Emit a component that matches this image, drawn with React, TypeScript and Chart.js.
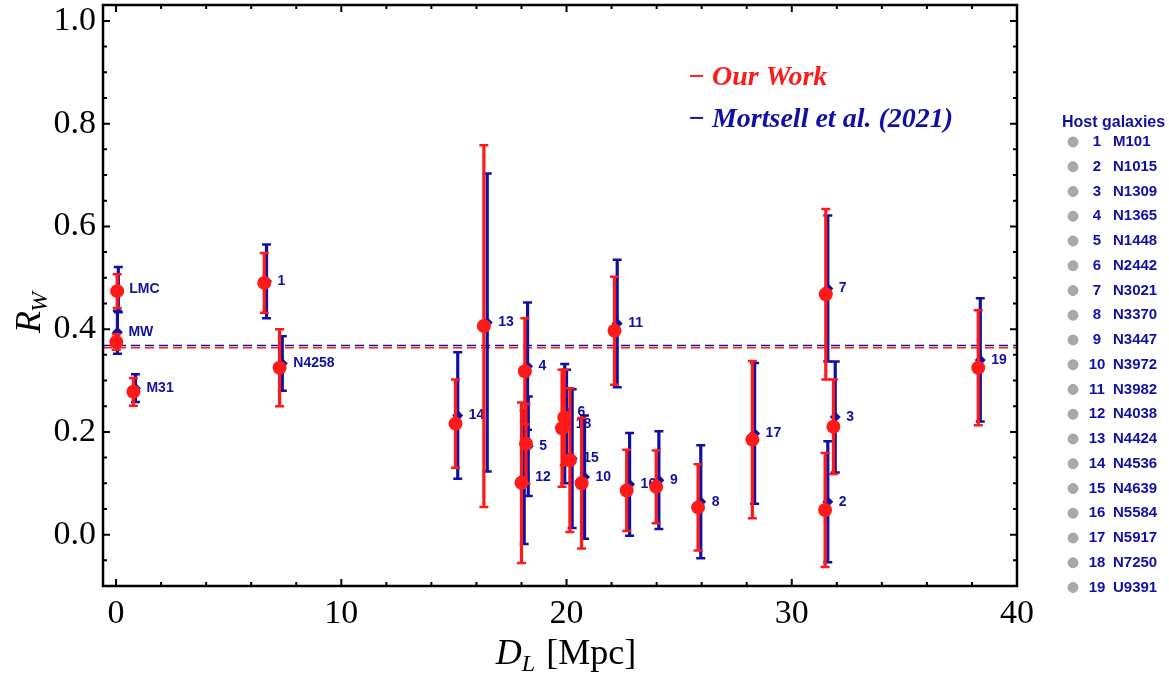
import React, { useEffect, useRef } from 'react';
import { Chart, registerables } from 'chart.js';

Chart.register(...registerables);

// ---- axes ----
const X_MIN = -0.58;
const X_MAX = 40;
const Y_MIN = -0.1;
const Y_MAX = 1.031;
const X_TICKS = [0, 10, 20, 30, 40];
const Y_TICKS = [0, 0.2, 0.4, 0.6, 0.8, 1.0];
const X_MINOR_STEP = 2;
const Y_MINOR_STEP = 0.05;

// ---- data ----
const GALAXY_LABELS = ['LMC', 'MW', 'M31', '1', 'N4258', '14', '13', '4', '5', '12', '6', '18', '15', '10', '11', '16', '9', '8', '17', '7', '3', '2', '19'];

const OUR_D = [0.05, 0.01, 0.77, 6.58, 7.26, 15.07, 16.33, 18.15, 18.2, 18.0, 19.9, 19.8, 20.15, 20.67, 22.13, 22.67, 23.98, 25.84, 28.25, 31.51, 31.85, 31.48, 38.28];
const OUR_RW = [0.474, 0.375, 0.278, 0.49, 0.325, 0.216, 0.406, 0.318, 0.177, 0.101, 0.228, 0.207, 0.145, 0.1, 0.397, 0.086, 0.093, 0.053, 0.185, 0.468, 0.21, 0.048, 0.325];
const OUR_ERR = [0.033, 0.015, 0.027, 0.058, 0.075, 0.086, 0.352, 0.103, 0.078, 0.156, 0.093, 0.114, 0.14, 0.127, 0.105, 0.079, 0.071, 0.084, 0.153, 0.166, 0.092, 0.111, 0.112];

const M21_D = [0.1, 0.06, 0.86, 6.68, 7.38, 15.17, 16.48, 18.27, 18.3, 18.12, 20.0, 19.92, 20.25, 20.8, 22.25, 22.8, 24.1, 25.96, 28.35, 31.6, 31.93, 31.6, 38.37];
const M21_RW = [0.477, 0.394, 0.285, 0.493, 0.333, 0.232, 0.413, 0.328, 0.172, 0.112, 0.239, 0.216, 0.148, 0.112, 0.411, 0.098, 0.106, 0.064, 0.197, 0.479, 0.229, 0.064, 0.34];
const M21_ERR = [0.044, 0.042, 0.027, 0.072, 0.053, 0.123, 0.29, 0.124, 0.097, 0.13, 0.082, 0.116, 0.135, 0.12, 0.124, 0.1, 0.095, 0.11, 0.137, 0.142, 0.108, 0.118, 0.12];

const RW_MEAN_OURS = 0.364;
const RW_MEAN_M21 = 0.368;

const HOST_NUMS = ['1', '2', '3', '4', '5', '6', '7', '8', '9', '10', '11', '12', '13', '14', '15', '16', '17', '18', '19'];
const HOST_NAMES = ['M101', 'N1015', 'N1309', 'N1365', 'N1448', 'N2442', 'N3021', 'N3370', 'N3447', 'N3972', 'N3982', 'N4038', 'N4424', 'N4536', 'N4639', 'N5584', 'N5917', 'N7250', 'U9391'];

const LEGEND_OURS = '\u2212 Our Work';
const LEGEND_M21 = '\u2212 Mortsell et al. (2021)';

const RED = '#ff1a1a';
const BLUE = '#1010a6';
const SERIF = '"Liberation Serif", "Times New Roman", serif';
const SANS = '"Liberation Sans", Arial, sans-serif';

const errorBarPlugin = {
  id: 'errorBars',
  beforeDatasetDraw(chart: any, args: any) {
    const ds = chart.data.datasets[args.index];
    if (!ds.errors) return;
    const { ctx, scales, chartArea } = chart;
    const xs = scales.x, ys = scales.y;
    ctx.save();
    ctx.beginPath();
    ctx.rect(chartArea.left, chartArea.top, chartArea.width, chartArea.height);
    ctx.clip();
    ctx.strokeStyle = ds.errorColor;
    ds.data.forEach((p: any, i: number) => {
      const e = ds.errors[i];
      const px = xs.getPixelForValue(p.x);
      const yt = ys.getPixelForValue(p.y + e);
      const yb = ys.getPixelForValue(p.y - e);
      ctx.lineWidth = 3.2;
      ctx.beginPath();
      ctx.moveTo(px, yt);
      ctx.lineTo(px, yb);
      ctx.stroke();
      ctx.lineWidth = 2.5;
      ctx.beginPath();
      ctx.moveTo(px - 4.5, yt);
      ctx.lineTo(px + 4.5, yt);
      ctx.moveTo(px - 4.5, yb);
      ctx.lineTo(px + 4.5, yb);
      ctx.stroke();
    });
    ctx.restore();
  },
  afterDatasetDraw(chart: any, args: any) {
    const ds = chart.data.datasets[args.index];
    if (!ds.pointLabels) return;
    const { ctx, scales } = chart;
    ctx.save();
    ctx.fillStyle = BLUE;
    ctx.font = `bold 14px ${SANS}`;
    ctx.textAlign = 'left';
    ctx.textBaseline = 'middle';
    ds.data.forEach((p: any, i: number) => {
      const px = scales.x.getPixelForValue(p.x);
      const py = scales.y.getPixelForValue(p.y);
      ctx.fillText(ds.pointLabels[i], px + 11, py);
    });
    ctx.restore();
  },
};

const framePlugin = {
  id: 'frameAndText',
  afterDraw(chart: any) {
    const { ctx, chartArea: a, scales } = chart;
    const xs = scales.x, ys = scales.y;
    ctx.save();
    ctx.strokeStyle = '#000';
    ctx.lineWidth = 2.5;
    ctx.strokeRect(a.left, a.top, a.right - a.left, a.bottom - a.top);
    ctx.lineWidth = 2;
    const major = 7, minor = 4;
    ctx.beginPath();
    for (let v = 0; v <= X_MAX + 1e-9; v += X_MINOR_STEP) {
      const isMajor = X_TICKS.some((t) => Math.abs(t - v) < 1e-6);
      const len = isMajor ? major : minor;
      const px = xs.getPixelForValue(v);
      ctx.moveTo(px, a.bottom);
      ctx.lineTo(px, a.bottom - len);
      ctx.moveTo(px, a.top);
      ctx.lineTo(px, a.top + len);
    }
    for (let k = Math.ceil(Y_MIN / Y_MINOR_STEP); k * Y_MINOR_STEP <= Y_MAX + 1e-9; k++) {
      const v = k * Y_MINOR_STEP;
      const isMajor = Y_TICKS.some((t) => Math.abs(t - v) < 1e-6);
      const len = isMajor ? major : minor;
      const py = ys.getPixelForValue(v);
      ctx.moveTo(a.left, py);
      ctx.lineTo(a.left + len, py);
      ctx.moveTo(a.right, py);
      ctx.lineTo(a.right - len, py);
    }
    ctx.stroke();

    // x title: D_L [Mpc]
    ctx.fillStyle = '#000';
    ctx.textBaseline = 'alphabetic';
    ctx.textAlign = 'left';
    const fBig = `italic 36px ${SERIF}`;
    const fSub = `italic 24px ${SERIF}`;
    const fReg = `36px ${SERIF}`;
    ctx.font = fBig; const wD = ctx.measureText('D').width;
    ctx.font = fSub; const wL = ctx.measureText('L').width;
    ctx.font = fReg; const wM = ctx.measureText(' [Mpc]').width;
    const total = wD + wL + wM + 2;
    let tx = (a.left + a.right) / 2 - total / 2 + 6;
    const ty = 664;
    ctx.font = fBig; ctx.fillText('D', tx, ty); tx += wD;
    ctx.font = fSub; ctx.fillText('L', tx, ty + 7); tx += wL + 2;
    ctx.font = fReg; ctx.fillText(' [Mpc]', tx, ty);

    // y title: R_W (rotated)
    ctx.save();
    ctx.translate(40, 312);
    ctx.rotate(-Math.PI / 2);
    ctx.font = fBig; const wR = ctx.measureText('R').width;
    ctx.font = fSub; const wW = ctx.measureText('W').width;
    const t2 = wR + wW;
    let rx = -t2 / 2;
    ctx.font = fBig; ctx.fillText('R', rx, 0); rx += wR;
    ctx.font = fSub; ctx.fillText('W', rx - 1, 7);
    ctx.restore();

    // in-plot legend
    ctx.font = `bold italic 28px ${SERIF}`;
    ctx.fillStyle = RED;
    ctx.fillText(LEGEND_OURS, 688, 85);
    ctx.fillStyle = BLUE;
    ctx.fillText(LEGEND_M21, 688, 127);

    // host galaxies legend
    ctx.font = `bold 16px ${SANS}`;
    ctx.fillStyle = BLUE;
    ctx.textBaseline = 'middle';
    ctx.fillText('Host galaxies', 1062, 123);
    ctx.font = `bold 15px ${SANS}`;
    HOST_NUMS.forEach((n, i) => {
      const yy = 142 + i * 24.75;
      ctx.beginPath();
      ctx.arc(1073, yy, 5, 0, Math.PI * 2);
      ctx.fillStyle = '#a9a9a9';
      ctx.fill();
      ctx.strokeStyle = '#999';
      ctx.lineWidth = 0.8;
      ctx.stroke();
      ctx.fillStyle = BLUE;
      ctx.textAlign = 'center';
      ctx.fillText(n, 1097, yy);
      ctx.textAlign = 'left';
      ctx.fillText(HOST_NAMES[i], 1113, yy);
    });
    ctx.restore();
  },
};

export default function App() {
  const ref = useRef<HTMLCanvasElement | null>(null);
  useEffect(() => {
    if (!ref.current) return;
    const ours = OUR_D.map((d, i) => ({ x: d, y: OUR_RW[i] }));
    const m21 = M21_D.map((d, i) => ({ x: d, y: M21_RW[i] }));
    const chart = new Chart(ref.current, {
      type: 'scatter',
      data: {
        datasets: [
          {
            label: 'Our Work',
            data: ours,
            errors: OUR_ERR,
            errorColor: RED,
            pointStyle: 'circle',
            pointRadius: 7,
            pointBackgroundColor: RED,
            pointBorderWidth: 0,
            backgroundColor: RED,
            borderColor: RED,
          } as any,
          {
            label: 'Mortsell et al. (2021)',
            data: m21,
            errors: M21_ERR,
            errorColor: BLUE,
            pointLabels: GALAXY_LABELS,
            pointStyle: 'rectRot',
            pointRadius: 5.5,
            pointBackgroundColor: BLUE,
            pointBorderWidth: 0,
            backgroundColor: BLUE,
            borderColor: BLUE,
          } as any,
          {
            label: 'mean ours',
            data: [{ x: X_MIN, y: RW_MEAN_OURS }, { x: X_MAX, y: RW_MEAN_OURS }],
            showLine: true,
            borderColor: RED,
            borderWidth: 1.5,
            borderDash: [9, 5],
            pointRadius: 0,
          } as any,
          {
            label: 'mean m21',
            data: [{ x: X_MIN, y: RW_MEAN_M21 }, { x: X_MAX, y: RW_MEAN_M21 }],
            showLine: true,
            borderColor: BLUE,
            borderWidth: 1.5,
            borderDash: [9, 5],
            pointRadius: 0,
          } as any,
        ],
      },
      options: {
        responsive: false,
        animation: false,
        events: [],
        layout: { padding: { left: 0, right: 152, top: 5, bottom: 0 }, autoPadding: false } as any,
        plugins: { legend: { display: false }, tooltip: { enabled: false } },
        scales: {
          x: {
            type: 'linear',
            min: X_MIN,
            max: X_MAX,
            grid: { display: false, drawTicks: false },
            border: { display: false },
            afterBuildTicks: (s: any) => { s.ticks = X_TICKS.map((v) => ({ value: v })); },
            afterFit: (s: any) => { s.height = 98; s.paddingLeft = 0; s.paddingRight = 0; s.paddingTop = 0; s.paddingBottom = 0; },
            ticks: {
              color: '#000',
              padding: 8,
              maxRotation: 0,
              autoSkip: false,
              font: { family: SERIF, size: 34 },
              callback: (v: any) => String(v),
            },
          },
          y: {
            type: 'linear',
            min: Y_MIN,
            max: Y_MAX,
            grid: { display: false, drawTicks: false },
            border: { display: false },
            afterBuildTicks: (s: any) => { s.ticks = Y_TICKS.map((v) => ({ value: v })); },
            afterFit: (s: any) => { s.width = 103; s.paddingLeft = 0; s.paddingRight = 0; s.paddingTop = 0; s.paddingBottom = 0; },
            ticks: {
              color: '#000',
              padding: 7,
              autoSkip: false,
              font: { family: SERIF, size: 34 },
              callback: (v: any) => Number(v).toFixed(1),
            },
          },
        },
      },
      plugins: [errorBarPlugin, framePlugin],
    } as any);
    return () => chart.destroy();
  }, []);
  return (
    <div style={{ position: 'fixed', left: 0, top: 0, width: 1169, height: 684, background: '#fff' }}>
      <canvas ref={ref} width={1169} height={684} style={{ display: 'block' }} />
    </div>
  );
}
